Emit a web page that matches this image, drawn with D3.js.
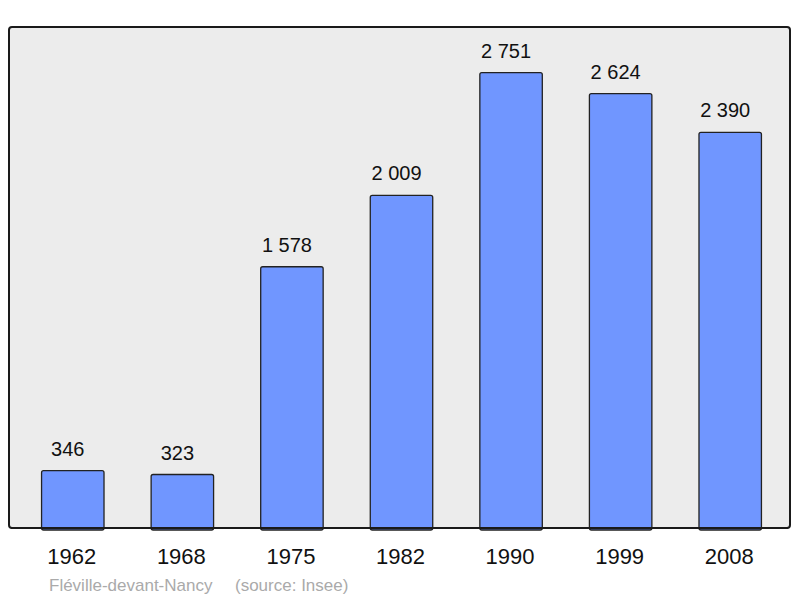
<!DOCTYPE html>
<html>
<head>
<meta charset="utf-8">
<script src="https://cdn.jsdelivr.net/npm/d3@7"></script>
<style>
  body { margin: 0; background: #fff; }
  svg { display: block; font-family: "Liberation Sans", Arial, sans-serif; }
</style>
</head>
<body>
<div id="chart"></div>
<script>
// population by census year
const years = ["1962", "1968", "1975", "1982", "1990", "1999", "2008"];
const population = [346, 323, 1578, 2009, 2751, 2624, 2390];
const valueLabels = ["346", "323", "1 578", "2 009", "2 751", "2 624", "2 390"];
const townName = "Fléville-devant-Nancy";
const sourceText = "(source: Insee)";

const width = 800;
const height = 598;
const panel = { left: 9, top: 27, right: 790, bottom: 528 };

const svg = d3.select("#chart")
    .append("svg")
    .attr("width", width)
    .attr("height", height);

// grey plot panel
svg.append("rect")
    .attr("x", panel.left)
    .attr("y", panel.top)
    .attr("width", panel.right - panel.left)
    .attr("height", panel.bottom - panel.top)
    .attr("rx", 3)
    .attr("fill", "#ececec")
    .attr("stroke", "#1a1a1a")
    .attr("stroke-width", 2);

const x = d3.scaleBand()
    .domain(years)
    .range([18, 785])
    .paddingInner(0.43)
    .paddingOuter(0.215);

const y = d3.scaleLinear()
    .domain([0, d3.max(population) * 1.1])
    .range([panel.bottom, panel.top]);

const data = years.map((yr, i) => ({ year: yr, value: population[i], label: valueLabels[i] }));

svg.selectAll(".bar")
    .data(data)
    .enter()
    .append("rect")
    .attr("class", "bar")
    .attr("x", d => x(d.year))
    .attr("y", d => y(d.value))
    .attr("width", x.bandwidth())
    .attr("height", d => panel.bottom - y(d.value) + 2)
    .attr("rx", 2)
    .attr("fill", "#7096ff")
    .attr("stroke", "#222")
    .attr("stroke-width", 1.3);

// redraw bottom edge of panel over bar bases
svg.append("line")
    .attr("x1", panel.left + 2)
    .attr("x2", panel.right - 2)
    .attr("y1", panel.bottom)
    .attr("y2", panel.bottom)
    .attr("stroke", "#1a1a1a")
    .attr("stroke-width", 2);

svg.selectAll(".value")
    .data(data)
    .enter()
    .append("text")
    .attr("class", "value")
    .attr("x", d => x(d.year) + x.bandwidth() / 2 - 5)
    .attr("y", d => y(d.value) - 15)
    .attr("text-anchor", "middle")
    .attr("font-size", 20)
    .attr("fill", "#111")
    .text(d => d.label);

svg.selectAll(".year")
    .data(data)
    .enter()
    .append("text")
    .attr("class", "year")
    .attr("x", d => x(d.year) + x.bandwidth() / 2 - 1)
    .attr("y", 564)
    .attr("text-anchor", "middle")
    .attr("font-size", 22)
    .attr("fill", "#111")
    .text(d => d.year);

svg.append("text")
    .attr("x", 49)
    .attr("y", 591)
    .attr("font-size", 17)
    .attr("fill", "#aaa")
    .text(townName);

svg.append("text")
    .attr("x", 235)
    .attr("y", 591)
    .attr("font-size", 17)
    .attr("fill", "#aaa")
    .text(sourceText);
</script>
</body>
</html>
